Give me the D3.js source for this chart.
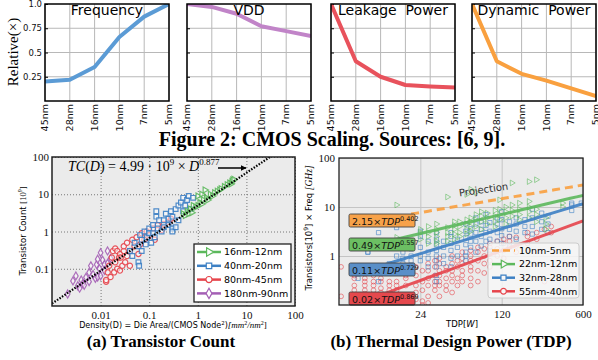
<!DOCTYPE html>
<html>
<head>
<meta charset="utf-8">
<script src="https://cdn.jsdelivr.net/npm/d3@7"></script>
<style>
  body { margin: 0; background: #fff; }
  svg { display: block; }
</style>
</head>
<body>
<svg id="chart" width="598" height="360"></svg>
<script>
// ---- top row: relative scaling per node ----
const nodes = ['45nm', '28nm', '16nm', '10nm', '7nm', '5nm'];
const frequency = [0.20, 0.22, 0.35, 0.66, 0.87, 1.0];
const vdd = [1.0, 0.97, 0.90, 0.77, 0.72, 0.67];
const leakagePower = [1.0, 0.41, 0.25, 0.165, 0.15, 0.14];
const dynamicPower = [1.0, 0.41, 0.28, 0.21, 0.13, 0.05];
const topTitles = ['Frequency', 'VDD', 'Leakage  Power', 'Dynamic  Power'];
const relTicks = [0.25, 0.5, 0.75, 1.0];
const relTickLabels = ['0.25', '0.5', '0.75', '1.0'];

// ---- (a) transistor count vs density, [density, count(1e9)] ----
const groupsA = ['16nm-12nm', '40nm-20nm', '80nm-45nm', '180nm-90nm'];
const pts1612 = [[0.5,3],[0.55,2.7],[0.6,3.5],[0.65,3],[0.7,4],[0.75,3.2],[0.8,5],[0.9,4.5],[1.0,5],[1.0,9],
  [1.1,6],[1.2,5.5],[1.2,10],[1.3,7],[1.4,13],[1.5,8],[1.6,7],[1.8,10],[2.0,9],[2.2,11],[2.5,12],[2.8,13],
  [3,14],[3.5,16],[4,18],[4.5,20],[4.8,19],[5,22],[5.2,24],[5.5,25]];
const pts4020 = [[0.04,0.3],[0.045,0.22],[0.05,0.5],[0.06,0.4],[0.06,0.15],[0.062,0.12],[0.065,0.8],[0.07,0.6],
  [0.07,0.3],[0.08,1.0],[0.085,0.45],[0.09,0.7],[0.1,1.2],[0.1,0.9],[0.11,0.5],[0.12,1.5],[0.12,0.9],[0.13,0.7],
  [0.14,2.5],[0.14,3.5],[0.15,1.2],[0.16,2.0],[0.18,1.0],[0.2,2.0],[0.2,1.3],[0.22,3.0],[0.25,1.5],[0.25,2.2],
  [0.28,3.5],[0.3,1.2],[0.3,2.5],[0.3,1.0],[0.35,4],[0.35,1.3],[0.4,2.0],[0.4,5],[0.45,6],[0.5,3.5],[0.5,8],
  [0.55,5],[0.6,7],[0.65,9],[0.7,4],[0.8,8]];
const pts8045 = [[0.013,0.045],[0.013,0.05],[0.014,0.08],[0.015,0.12],[0.016,0.06],[0.017,0.2],[0.018,0.3],
  [0.019,0.08],[0.02,0.15],[0.02,0.35],[0.022,0.1],[0.022,0.3],[0.024,0.2],[0.025,0.25],[0.025,0.09],[0.026,0.2],
  [0.028,0.12],[0.03,0.3],[0.03,0.4],[0.032,0.15],[0.035,0.5],[0.035,0.22],[0.04,0.12],[0.04,0.3],[0.045,0.6],
  [0.05,0.4],[0.055,0.7],[0.06,0.25],[0.065,0.45],[0.07,0.9],[0.08,0.6],[0.09,1.0],[0.1,0.8],[0.12,1.2],
  [0.13,0.6],[0.15,1.5],[0.18,1.1],[0.2,1.6],[0.25,1.8],[0.28,2.2]];
const pts18090 = [[0.0021,0.021],[0.0027,0.047],[0.0031,0.064],[0.0034,0.035],[0.0037,0.03],[0.004,0.05],
  [0.0043,0.04],[0.0046,0.036],[0.005,0.059],[0.0058,0.079],[0.0058,0.045],[0.0063,0.12],[0.007,0.07],
  [0.0078,0.055],[0.0083,0.13],[0.0087,0.18],[0.0087,0.06],[0.0095,0.1],[0.01,0.27],[0.01,0.064],[0.011,0.17],
  [0.012,0.13],[0.012,0.09],[0.0139,0.3],[0.0139,0.14],[0.016,0.19]];
const fitA = { a: 4.99, b: 0.877, from: 0.001, to: 31 };

// ---- (b) transistors x freq vs TDP, columns of [TDP, values] ----
const groupsB = ['10nm-5nm', '22nm-12nm', '32nm-28nm', '55nm-40nm'];
const cols5540 = [[5,[0.6,0.15]],[6.5,[0.35,0.25,0.2,0.4]],[8,[0.25,0.2,0.3,0.17,0.35]],
  [9.5,[0.2,0.3,0.25,0.15,0.4]],[11,[0.3,0.22,0.18,0.35,0.5]],[13,[0.25,0.2,0.15,0.3,0.45]],
  [15,[0.3,0.2,0.12,0.5,0.25]],[18,[0.35,0.25,0.15,0.4]],[22,[0.4,0.25,0.6,0.18,0.13]],
  [25,[0.3,0.5,0.2,0.12,0.1]],[28,[0.5,0.35,0.7,0.25,0.15,0.11]],[32,[0.4,0.6,0.25,0.3,0.8,0.2]],
  [35,[0.5,0.3,0.7,0.4,0.15,0.25,0.9]],[40,[0.35,0.6,0.5,0.25,0.2]],[45,[0.7,0.5,0.4,1.0,0.3,0.18]],
  [50,[0.6,0.35,0.8,0.25]],[55,[0.9,0.5,0.7,0.3,0.4,1.2]],[65,[1.0,0.6,0.8,0.35,1.3,0.5,0.25]],
  [75,[1.2,0.8,0.5,0.3,1.5]],[85,[1.0,0.7,1.4,0.45]],[95,[1.5,1.1,0.8,0.6,1.8]],[110,[1.4,1.0,2.0]],
  [125,[1.8,1.3,0.9,2.2]],[140,[2.0,1.5,2.5]],[160,[1.6,2.4,1.2]],[200,[2.5,1.8,3.0]],[240,[3.0,2.2]],
  [280,[0.3,3.5]],[320,[3.0,4.0]]];
const cols3228 = [[7,[0.35]],[8.5,[1.2,1.2]],[10.5,[3.0,0.3]],[13,[0.5,0.7]],[15,[3.8,0.45,0.55,1.0]],
  [17,[0.9,1.2,0.7]],[20,[1.0,1.4,0.8,0.6]],[24,[1.5,1.0,2.5,0.8,3.2]],[28,[1.2,2.0,0.9,0.6]],
  [33,[0.4,0.6,0.8,1.0,1.3,1.7,2.2,3.0,0.3]],[38,[1.0,1.5,2.0,0.7]],[44,[0.6,0.9,1.3,1.8,2.5,3.0]],
  [50,[1.0,1.5,2.2]],[59,[0.8,1.2,1.7,2.4,3.2,4.5,1.0]],[65,[1.5,2.0,2.8,3.6]],[72,[1.2,2.0,3.0,4.5,6.0]],
  [80,[1.6,2.5,3.5,5.0]],[88,[2.0,3.0,4.2,7.0]],[95,[1.3,2.2,3.2,4.8]],[110,[2.0,3.0,4.5,6.0]],
  [120,[1.8,2.6,3.6,5.5,8.0]],[140,[2.5,3.5,5.0,1.6]],[160,[2.2,3.2,4.5,6.0]],[190,[3.0,4.0,5.5]],
  [220,[2.8,4.0,6.0,9.0]],[265,[3.5,5.0,7.5]],[300,[4.5,6.5,3.0]],[480,[8.5,11,12]],[580,[12]]];
const cols2212 = [[15,[11,2.4]],[24,[2.2,3.5,3.0]],[28,[2.5,3.0,1.8,4.0]],[33,[2.0,2.5,3.0,3.5,4.5,1.8]],
  [41,[2.5,3.0,16,3.8,2.0]],[47,[2.8,3.5,4.2,5.0,2.2]],[52,[3.0,4.0,5.0,2.5]],[60,[3.5,4.5,5.5,2.8,18]],
  [65,[4.0,5.0,6.0,3.2,23]],[72,[4.0,5.5,7.0,20]],[80,[3.5,5.0,6.5,8.0]],[90,[4.5,6.0,7.5]],
  [105,[5.0,6.5,8.5,4.0]],[115,[5.5,7.0,9.0,14]],[130,[6.0,8.0,10,4.5]],[147,[6.5,8.5,11,31]],
  [170,[7.0,9.0,12,5.5]],[206,[6.0,8.0,10,13,33]],[238,[5.0,7.0,9.0,36]],[287,[3.5,4.5,6.0]],[400,[12,10]]];
const fitsB = [
  { a: 2.15, b: '0.402', from: 20, to: 600 },
  { a: 0.49, b: '0.557', from: 14, to: 600 },
  { a: 0.11, b: '0.729', from: 7, to: 600 },
  { a: 0.02, b: '0.869', from: 4.8, to: 600 }
];

const SANS = 'DejaVu Sans';
const SERIF = 'Liberation Serif';
const svg = d3.select('#chart');

// ================= top row =================
const topSeries = [frequency, vdd, leakagePower, dynamicPower];
const topColors = ['#5b9bd5', '#c184c8', '#e8525c', '#f9a03f'];
const topLefts = [45, 187, 331, 472];
const topW = 124;
const yRel = d3.scaleLinear().domain([0, 1]).range([101, 4]);

topSeries.forEach((vals, i) => {
  const x = d3.scalePoint().domain(nodes).range([topLefts[i], topLefts[i] + topW]);
  const g = svg.append('g');

  g.selectAll('.vg').data(nodes).enter().append('line')
    .attr('x1', d => x(d)).attr('x2', d => x(d))
    .attr('y1', yRel(0)).attr('y2', yRel(1))
    .attr('stroke', '#b8b8b8').attr('stroke-width', 1);
  g.selectAll('.hg').data(relTicks.slice(0, 3)).enter().append('line')
    .attr('x1', topLefts[i]).attr('x2', topLefts[i] + topW)
    .attr('y1', d => yRel(d)).attr('y2', d => yRel(d))
    .attr('stroke', '#b8b8b8').attr('stroke-width', 1);

  const yAx = g.append('g').attr('transform', `translate(${topLefts[i]},0)`)
    .call(d3.axisLeft(yRel).tickValues(relTicks).tickSize(-3)
      .tickFormat((d, k) => i === 0 ? relTickLabels[k] : ''));
  yAx.select('.domain').remove();
  yAx.selectAll('text').attr('font-family', SANS).attr('font-size', 8.5).attr('fill', '#111').attr('x', -3);
  yAx.selectAll('line').attr('stroke', '#000');

  const clipId = 'clipTop' + i;
  svg.append('clipPath').attr('id', clipId).append('rect')
    .attr('x', topLefts[i]).attr('y', yRel(1)).attr('width', topW).attr('height', yRel(0) - yRel(1));

  g.append('path').datum(vals)
    .attr('clip-path', `url(#${clipId})`)
    .attr('d', d3.line().x((d, k) => x(nodes[k])).y(d => yRel(d)))
    .attr('fill', 'none').attr('stroke', topColors[i]).attr('stroke-width', 4)
    .attr('stroke-linejoin', 'round');

  g.append('rect')
    .attr('x', topLefts[i]).attr('y', yRel(1)).attr('width', topW).attr('height', yRel(0) - yRel(1))
    .attr('fill', 'none').attr('stroke', '#000').attr('stroke-width', 1.5);

  g.append('text').attr('x', topLefts[i] + topW / 2).attr('y', 15)
    .attr('text-anchor', 'middle').attr('font-family', SANS).attr('font-size', 14)
    .attr('xml:space', 'preserve').style('white-space', 'pre')
    .text(topTitles[i]);

  g.selectAll('.xl').data(nodes).enter().append('text')
    .attr('transform', d => `translate(${x(d)},104) rotate(-90)`)
    .attr('dy', '0.33em').attr('text-anchor', 'end')
    .attr('font-family', SANS).attr('font-size', 9.5).attr('fill', '#111')
    .text(d => d);
});

svg.append('text').attr('transform', 'translate(18,52) rotate(-90)')
  .attr('text-anchor', 'middle').attr('font-family', SERIF).attr('font-size', 15)
  .text('Relative(×)');

svg.append('text').attr('x', 332).attr('y', 146).attr('text-anchor', 'middle')
  .attr('font-family', SERIF).attr('font-weight', 'bold').attr('font-size', 20)
  .text('Figure 2: CMOS Scaling. Sources: [6, 9].');

// ================= (a) =================
const xA = d3.scaleLog().domain([0.001, 100]).range([52, 295]);
const yA = d3.scaleLog().domain([0.01, 100]).range([306, 157]);
const colA = ['#5cb85c', '#3d80c4', '#e6444b', '#a45fb5'];

svg.append('rect').attr('x', 52).attr('y', 157).attr('width', 243).attr('height', 149).attr('fill', '#ebebeb');
svg.append('clipPath').attr('id', 'clipA').append('rect').attr('x', 52).attr('y', 157).attr('width', 243).attr('height', 149);

const gxA = svg.append('g').attr('transform', 'translate(0,306)')
  .call(d3.axisBottom(xA).tickValues([0.01, 0.1, 1, 10, 100]).tickSize(-149).tickFormat(d3.format('~g')));
const gyA = svg.append('g').attr('transform', 'translate(52,0)')
  .call(d3.axisLeft(yA).tickValues([0.1, 1, 10, 100]).tickSize(-243).tickFormat(d3.format('~g')));
[gxA, gyA].forEach(ax => {
  ax.select('.domain').remove();
  ax.selectAll('line').attr('stroke', '#777').attr('stroke-dasharray', '1,2');
  ax.selectAll('text').attr('font-family', SERIF).attr('font-size', 11).attr('fill', '#111');
});
gxA.selectAll('text').attr('y', 5);
gyA.selectAll('text').attr('x', -3);

const markerPath = (shape, size) => {
  const t = { tri: d3.symbolTriangle, sq: d3.symbolSquare, circ: d3.symbolCircle, dia: d3.symbolDiamond }[shape];
  return d3.symbol().type(t).size(size)();
};
const shapesA = ['tri', 'sq', 'circ', 'dia'];
const ptsA = [pts1612, pts4020, pts8045, pts18090];
const sizesA = [16, 22, 22, 18];

const plotA = svg.append('g').attr('clip-path', 'url(#clipA)');
[3, 2, 1, 0].forEach(k => {
  plotA.selectAll('.pa' + k).data(ptsA[k]).enter().append('path')
    .attr('d', markerPath(shapesA[k], sizesA[k]))
    .attr('transform', d => `translate(${xA(d[0])},${yA(d[1])})` + (shapesA[k] === 'tri' ? ' rotate(90)' : ''))
    .attr('fill', '#fff').attr('fill-opacity', 0.5)
    .attr('stroke', colA[k]).attr('stroke-width', 1.2).attr('stroke-opacity', 0.9);
});

const fitLineA = d3.range(0, 41).map(i => {
  const d = fitA.from * Math.pow(fitA.to / fitA.from, i / 40);
  return [d, fitA.a * Math.pow(d, fitA.b)];
});
plotA.append('path').datum(fitLineA)
  .attr('d', d3.line().x(d => xA(d[0])).y(d => yA(d[1])))
  .attr('fill', 'none').attr('stroke', '#000').attr('stroke-width', 2.2).attr('stroke-dasharray', '1.5,1.5');

svg.append('rect').attr('x', 52).attr('y', 157).attr('width', 243).attr('height', 149)
  .attr('fill', 'none').attr('stroke', '#222').attr('stroke-width', 1.5);

const ann = svg.append('text').attr('x', 68).attr('y', 171).attr('font-family', SERIF).attr('font-size', 14);
ann.append('tspan').attr('font-style', 'italic').text('TC');
ann.append('tspan').text('(');
ann.append('tspan').attr('font-style', 'italic').text('D');
ann.append('tspan').text(') = 4.99 · 10');
ann.append('tspan').attr('font-size', 9).attr('dy', -6).text('9');
ann.append('tspan').attr('dy', 6).text(' × ');
ann.append('tspan').attr('font-style', 'italic').text('D');
ann.append('tspan').attr('font-size', 9).attr('dy', -6).text('0.877');

svg.append('defs').append('marker').attr('id', 'arrowA').attr('viewBox', '0 0 10 10')
  .attr('refX', 9).attr('refY', 5).attr('markerWidth', 4).attr('markerHeight', 4).attr('orient', 'auto')
  .append('path').attr('d', 'M0,0 L10,5 L0,10 Z').attr('fill', '#000');
svg.append('line').attr('x1', 218).attr('y1', 168).attr('x2', 246).attr('y2', 168)
  .attr('stroke', '#000').attr('stroke-width', 1.5).attr('marker-end', 'url(#arrowA)');

const legA = svg.append('g');
legA.append('rect').attr('x', 194).attr('y', 244).attr('width', 97).attr('height', 58)
  .attr('fill', '#fff').attr('stroke', '#222').attr('stroke-width', 1.3);
groupsA.forEach((name, k) => {
  const y = 252 + k * 13.8;
  legA.append('line').attr('x1', 197).attr('x2', 221).attr('y1', y).attr('y2', y)
    .attr('stroke', colA[k]).attr('stroke-width', 2.5);
  legA.append('path').attr('d', markerPath(shapesA[k], 30))
    .attr('transform', `translate(209,${y})` + (shapesA[k] === 'tri' ? ' rotate(90)' : ''))
    .attr('fill', '#fff').attr('stroke', colA[k]).attr('stroke-width', 1.2);
  legA.append('text').attr('x', 224).attr('y', y).attr('dy', '0.35em')
    .attr('font-family', SANS).attr('font-size', 9.5).text(name);
});

const ylA = svg.append('text').attr('transform', 'translate(26,231) rotate(-90)')
  .attr('text-anchor', 'middle').attr('font-family', SANS).attr('font-size', 8.5);
ylA.append('tspan').text('Transistor Count ');
ylA.append('tspan').attr('font-family', SERIF).text('[10');
ylA.append('tspan').attr('font-family', SERIF).attr('font-size', 6).attr('dy', -4).text('9');
ylA.append('tspan').attr('font-family', SERIF).attr('dy', 4).text(']');

const xlA = svg.append('text').attr('x', 173).attr('y', 328).attr('text-anchor', 'middle')
  .attr('font-family', SANS).attr('font-size', 8);
xlA.append('tspan').text('Density(D) = Die Area/(CMOS Node');
xlA.append('tspan').attr('font-size', 5.5).attr('dy', -3).text('2');
xlA.append('tspan').attr('dy', 3).text(')');
xlA.append('tspan').attr('font-family', SERIF).attr('font-style', 'italic').attr('font-size', 9).text('[mm');
xlA.append('tspan').attr('font-family', SERIF).attr('font-size', 6).attr('dy', -3).text('2');
xlA.append('tspan').attr('font-family', SERIF).attr('font-style', 'italic').attr('font-size', 9).attr('dy', 3).text('/nm');
xlA.append('tspan').attr('font-family', SERIF).attr('font-size', 6).attr('dy', -3).text('2');
xlA.append('tspan').attr('font-family', SERIF).attr('font-size', 9).attr('dy', 3).text(']');

svg.append('text').attr('x', 161).attr('y', 347).attr('text-anchor', 'middle')
  .attr('font-family', SERIF).attr('font-weight', 'bold').attr('font-size', 17)
  .text('(a) Transistor Count');

// ================= (b) =================
const xB = d3.scaleLog().domain([4.8, 600]).range([339, 583]);
const yB = d3.scaleLog().domain([0.1, 100]).range([305, 158]);
const colB = ['#f9a03f', '#5cb85c', '#3d80c4', '#e6444b'];
const fillB = ['#f7a24a', '#6cbf63', '#5a8fc8', '#e5484d'];

svg.append('rect').attr('x', 339).attr('y', 158).attr('width', 244).attr('height', 147).attr('fill', '#ebebeb');
svg.append('clipPath').attr('id', 'clipB').append('rect').attr('x', 339).attr('y', 158).attr('width', 244).attr('height', 147);

const gxB = svg.append('g').attr('transform', 'translate(0,305)')
  .call(d3.axisBottom(xB).tickValues([24, 120, 600]).tickSize(-147).tickFormat(d3.format('d')));
const gyB = svg.append('g').attr('transform', 'translate(339,0)')
  .call(d3.axisLeft(yB).tickValues([1, 10, 100]).tickSize(-244).tickFormat(d3.format('d')));
[gxB, gyB].forEach(ax => {
  ax.select('.domain').remove();
  ax.selectAll('line').attr('stroke', '#c4c4c4').attr('stroke-width', 1);
  ax.selectAll('text').attr('font-family', SERIF).attr('font-size', 11).attr('fill', '#111');
});
gxB.selectAll('text').attr('y', 5);
gyB.selectAll('text').attr('x', -4);

const plotB = svg.append('g').attr('clip-path', 'url(#clipB)');
const flat = cols => cols.flatMap(c => c[1].map(v => [c[0], v]));
[[cols5540, 'circ', 3], [cols3228, 'sq', 2], [cols2212, 'tri', 1]].forEach(([cols, shape, k]) => {
  plotB.selectAll('.pb' + k).data(flat(cols)).enter().append('path')
    .attr('d', markerPath(shape, shape === 'tri' ? 14 : 18))
    .attr('transform', d => `translate(${xB(d[0])},${yB(d[1])})` + (shape === 'tri' ? ' rotate(90)' : ''))
    .attr('fill', 'none').attr('stroke', colB[k]).attr('stroke-width', 0.9).attr('stroke-opacity', 0.65);
});

fitsB.forEach((f, k) => {
  const pts = d3.range(0, 31).map(i => {
    const t = f.from * Math.pow(f.to / f.from, i / 30);
    return [t, f.a * Math.pow(t, +f.b)];
  });
  plotB.append('path').datum(pts)
    .attr('d', d3.line().x(d => xB(d[0])).y(d => yB(d[1])))
    .attr('fill', 'none').attr('stroke', colB[k]).attr('stroke-width', 3)
    .attr('stroke-opacity', 0.9).attr('stroke-dasharray', k === 0 ? '8,5' : null);
});

svg.append('text').attr('transform', 'translate(484,193) rotate(-8)')
  .attr('text-anchor', 'middle').attr('font-family', SANS).attr('font-size', 10).attr('fill', '#333')
  .text('Projection');

const boxTops = [214, 238, 263, 292];
fitsB.forEach((f, k) => {
  svg.append('rect').attr('x', 349).attr('y', boxTops[k]).attr('width', 66).attr('height', 13)
    .attr('rx', 1.5).attr('fill', fillB[k]).attr('stroke', '#444').attr('stroke-width', 0.9);
  const t = svg.append('text').attr('x', 352).attr('y', boxTops[k] + 10.5)
    .attr('font-family', SANS).attr('font-size', 9.5).attr('fill', '#111');
  t.append('tspan').text(f.a.toFixed(2) + '×');
  t.append('tspan').attr('font-style', 'italic').text('TDP');
  t.append('tspan').attr('font-size', 6.5).attr('dy', -4).text(f.b);
});

svg.append('rect').attr('x', 339).attr('y', 158).attr('width', 244).attr('height', 147)
  .attr('fill', 'none').attr('stroke', '#222').attr('stroke-width', 1.3);

const legB = svg.append('g');
legB.append('rect').attr('x', 488).attr('y', 243).attr('width', 91).attr('height', 55).attr('rx', 3)
  .attr('fill', '#f7f7f7').attr('fill-opacity', 0.85).attr('stroke', '#cccccc').attr('stroke-width', 1);
const shapesB = [null, 'tri', 'sq', 'circ'];
groupsB.forEach((name, k) => {
  const y = 250.5 + k * 13.6;
  legB.append('line').attr('x1', 492).attr('x2', 515).attr('y1', y).attr('y2', y)
    .attr('stroke', colB[k]).attr('stroke-width', 2.5).attr('stroke-dasharray', k === 0 ? '7,4' : null);
  if (shapesB[k]) {
    legB.append('path').attr('d', markerPath(shapesB[k], 26))
      .attr('transform', `translate(503.5,${y})` + (shapesB[k] === 'tri' ? ' rotate(90)' : ''))
      .attr('fill', '#f7f7f7').attr('stroke', colB[k]).attr('stroke-width', 1.2);
  }
  legB.append('text').attr('x', 519).attr('y', y).attr('dy', '0.35em')
    .attr('font-family', SANS).attr('font-size', 9.5).text(name);
});

const ylB = svg.append('text').attr('transform', 'translate(312,228) rotate(-90)')
  .attr('text-anchor', 'middle').attr('font-family', SANS).attr('font-size', 8.5);
ylB.append('tspan').text('Transistors[10');
ylB.append('tspan').attr('font-size', 6).attr('dy', -4).text('9');
ylB.append('tspan').attr('dy', 4).text('] × Freq ');
ylB.append('tspan').attr('font-family', SERIF).attr('font-style', 'italic').attr('font-size', 9.5).text('[GHz]');

const xlB = svg.append('text').attr('x', 462).attr('y', 327).attr('text-anchor', 'middle')
  .attr('font-family', SANS).attr('font-size', 8.5);
xlB.append('tspan').text('TDP[');
xlB.append('tspan').attr('font-style', 'italic').text('W');
xlB.append('tspan').text(']');

svg.append('text').attr('x', 451).attr('y', 347).attr('text-anchor', 'middle')
  .attr('font-family', SERIF).attr('font-weight', 'bold').attr('font-size', 17)
  .text('(b) Thermal Design Power (TDP)');
</script>
</body>
</html>
